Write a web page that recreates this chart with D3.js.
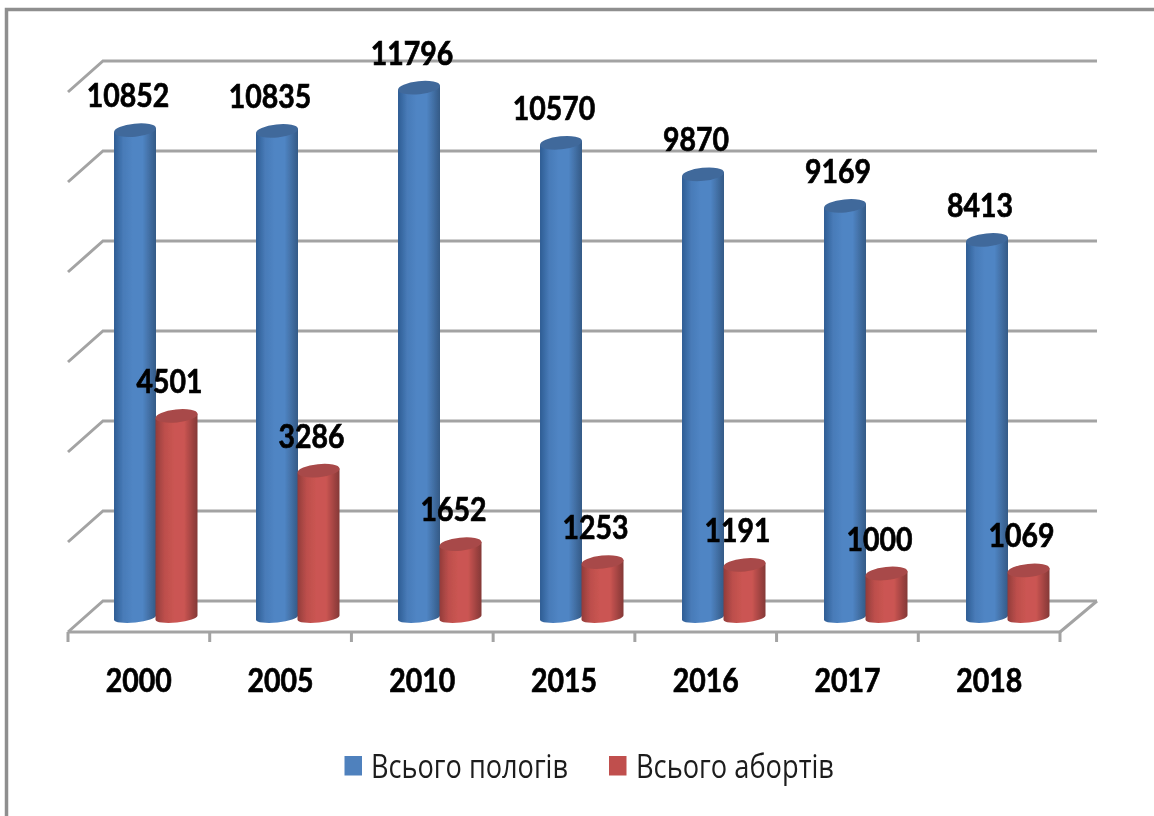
<!DOCTYPE html>
<html lang="uk"><head><meta charset="utf-8">
<script src="https://cdn.jsdelivr.net/npm/d3@7"></script>
<style>html,body{margin:0;padding:0;background:#fff}svg{display:block}</style>
</head><body><svg id="c" width="1154" height="816"></svg>
<script>
const categories = ["2000","2005","2010","2015","2016","2017","2018"];
const births = [10852,10835,11796,10570,9870,9169,8413];
const abortions = [4501,3286,1652,1253,1191,1000,1069];
const seriesNames = ["Всього пологів","Всього абортів"];
const yTicks = [0,2000,4000,6000,8000,10000,12000];

const svg = d3.select("#c");
const W = 1154, H = 816;
const depthX = 35, depthY = 31;
const x = d3.scaleBand().domain(categories).range([68,1060]);
const xBar = d3.scaleBand().domain(categories).range([64,1058]); // bars stand further back than the front axis
const y = d3.scaleLinear().domain([0,12000]).range([601,61]);      // back wall
const yBar = d3.scaleLinear().domain([0,12000]).range([618.5,78.5]); // bar axis, middle of floor
const barW = 42;

const defs = svg.append("defs");
function grad(id, edgeL, mid, edgeR){
  const g = defs.append("linearGradient").attr("id",id).attr("x1",0).attr("x2",1).attr("y1",0).attr("y2",0);
  [[0,edgeL],[.22,d3.interpolateRgb(edgeL,mid)(.75)],[.45,mid],[.68,mid],[1,edgeR]].forEach(s=>g.append("stop").attr("offset",s[0]).attr("stop-color",s[1]));
}
grad("gBlue","#2f5d94","#5085c4","#345a86");
grad("gRed","#933c3a","#cb5552","#843836");
const soft = defs.append("filter").attr("id","soft").attr("x","-5%").attr("y","-5%").attr("width","110%").attr("height","110%");
soft.append("feGaussianBlur").attr("stdDeviation",.7);
const softT = defs.append("filter").attr("id","softT").attr("x","-5%").attr("y","-20%").attr("width","110%").attr("height","140%");
softT.append("feGaussianBlur").attr("stdDeviation",.5);

// frame
svg.append("path").attr("d",`M6.5 816V9.5H${W}`).attr("fill","none").attr("stroke","#8f8f8f").attr("stroke-width",3.5);

// walls
const grid = svg.append("g").attr("filter","url(#soft)").attr("fill","none").attr("stroke","#a3a3a3").attr("stroke-width",3);
grid.selectAll("path.g").data(yTicks).join("path").attr("class","g")
  .attr("d",d=>`M${x.range()[0]} ${y(d)+depthY}L${x.range()[0]+depthX} ${y(d)}H${x.range()[1]+depthX+2}`);
grid.append("path").attr("d",`M${x.range()[1]} ${y(0)+depthY}L${x.range()[1]+depthX+2} ${y(0)}`);
const ticks = d3.range(categories.length).map(i=>x.range()[0]+i*x.step()).concat(x.range()[1]);
grid.append("path").attr("d",`M${x.range()[0]} ${y(0)+depthY}H${x.range()[1]}`);
grid.selectAll("path.t").data(ticks).join("path").attr("class","t")
  .attr("d",d=>`M${d} ${y(0)+depthY}v10`);

// cylinders
const rx = barW/2, ry = 6.5, rot = -6, ryBase = 5;
const dy = rx*Math.sin(rot*Math.PI/180);
function cxOf(i,k){ return xBar(categories[i])+xBar.bandwidth()/2+k*41.5; }
function body(cx,top,base){
  return `M${cx-rx} ${top-dy}L${cx-rx} ${base-dy}A${rx} ${ryBase} ${rot} 0 0 ${cx+rx} ${base+dy}L${cx+rx} ${top+dy}Z`;
}
function lid(cx,top){
  return `M${cx-rx} ${top-dy}A${rx} ${ry} ${rot} 1 1 ${cx+rx} ${top+dy}A${rx} ${ry} ${rot} 1 1 ${cx-rx} ${top-dy}Z`;
}
const bars = svg.append("g").attr("filter","url(#soft)");
[[births,"url(#gBlue)","#41699b",0],[abortions,"url(#gRed)","#a84a48",1]].forEach(([vals,fill,top,k])=>{
  const g = bars.append("g");
  g.selectAll("path.b").data(vals).join("path").attr("class","b").attr("fill",fill)
    .attr("d",(d,i)=>body(cxOf(i,k),yBar(d),yBar(0)-1));
  g.selectAll("path.l").data(vals).join("path").attr("class","l").attr("fill",top)
    .attr("d",(d,i)=>lid(cxOf(i,k),yBar(d)));
});

// text
const txt = svg.append("g").attr("filter","url(#softT)").attr("font-family","Lato, 'Open Sans', sans-serif");
function num(sel){
  return sel.attr("font-weight",700).attr("font-size",32).attr("fill","#000").attr("stroke","#000").attr("stroke-width",.7)
    .attr("text-anchor","middle")
    .attr("lengthAdjust","spacingAndGlyphs").attr("textLength",d=>String(d).length*16.5);
}
[[births,0],[abortions,1]].forEach(([vals,k])=>{
  txt.append("g").selectAll("text").data(vals).join("text").call(num)
    .attr("x",(d,i)=>cxOf(i,k)-7).attr("y",d=>yBar(d)-23).text(d=>d);
});
txt.append("g").selectAll("text").data(categories).join("text").call(num)
  .attr("x",d=>x(d)+x.bandwidth()/2).attr("y",692).text(d=>d);

// legend
const lg = svg.append("g").attr("filter","url(#softT)");
[["#4f81bd",344.5,371,197],["#c0504d",609,636,198]].forEach((l,i)=>{
  lg.append("rect").attr("x",l[1]).attr("y",756).attr("width",17.5).attr("height",19.5).attr("fill",l[0]);
  lg.append("text").attr("x",l[2]).attr("y",778).attr("font-family","'Open Sans', sans-serif").attr("font-size",33)
    .attr("fill","#1c1c1c").attr("lengthAdjust","spacingAndGlyphs").attr("textLength",l[3]).text(seriesNames[i]);
});
</script></body></html>
